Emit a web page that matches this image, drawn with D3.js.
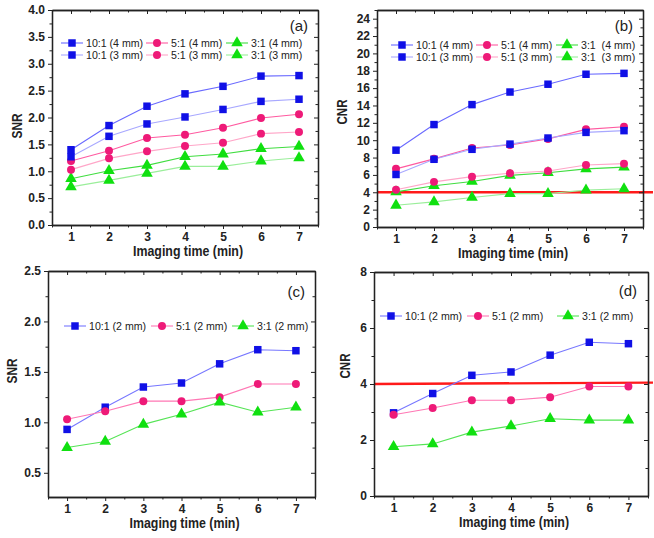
<!DOCTYPE html>
<html>
<head>
<meta charset="utf-8">
<script src="https://cdn.jsdelivr.net/npm/d3@7"></script>
<style>
  body { margin: 0; background: #fff; }
  svg { display: block; font-family: "Liberation Sans", Arial, sans-serif; }
  .tick text { font-weight: bold; font-size: 12px; fill: #222; }
  .domain, .tick line { stroke: #222; }
</style>
</head>
<body>
<div id="chart"></div>
<script>
const timeMin = [1, 2, 3, 4, 5, 6, 7];

// (a) SNR, 4 mm and 3 mm
const snrA_10_4 = [1.40, 1.85, 2.21, 2.44, 2.58, 2.77, 2.78];
const snrA_10_3 = [1.27, 1.65, 1.88, 2.01, 2.15, 2.30, 2.34];
const snrA_5_4 = [1.19, 1.38, 1.62, 1.68, 1.81, 1.99, 2.06];
const snrA_5_3 = [1.03, 1.24, 1.37, 1.47, 1.53, 1.70, 1.73];
const snrA_3_4 = [0.86, 1.01, 1.11, 1.27, 1.32, 1.42, 1.46];
const snrA_3_3 = [0.71, 0.83, 0.96, 1.09, 1.09, 1.19, 1.25];

// (b) CNR, 4 mm and 3 mm
const cnrB_10_4 = [8.85, 11.8, 14.1, 15.55, 16.45, 17.6, 17.7];
const cnrB_10_3 = [6.05, 7.8, 8.95, 9.55, 10.25, 10.9, 11.1];
const cnrB_5_4 = [6.7, 7.85, 9.1, 9.45, 10.15, 11.25, 11.55];
const cnrB_5_3 = [4.3, 5.2, 5.8, 6.2, 6.45, 7.15, 7.3];
const cnrB_3_4 = [4.05, 4.75, 5.25, 5.95, 6.25, 6.7, 6.9];
const cnrB_3_3 = [2.5, 2.9, 3.4, 3.85, 3.85, 4.25, 4.4];

// (c) SNR, 2 mm
const snrC_10 = [0.93, 1.15, 1.35, 1.39, 1.58, 1.72, 1.71];
const snrC_5 = [1.03, 1.11, 1.21, 1.21, 1.25, 1.38, 1.38];
const snrC_3 = [0.75, 0.81, 0.98, 1.08, 1.20, 1.10, 1.15];

// (d) CNR, 2 mm
const cnrD_10 = [2.97, 3.66, 4.31, 4.43, 5.03, 5.49, 5.44];
const cnrD_5 = [2.90, 3.14, 3.42, 3.42, 3.53, 3.91, 3.91];
const cnrD_3 = [1.76, 1.86, 2.28, 2.50, 2.76, 2.71, 2.71];

// red CNR = 4 threshold lines (start, end)
const thresholdB = [4.0, 4.0];
const thresholdD = [4.0, 4.05];

const legendA = ["10:1 (4 mm)", "5:1 (4 mm)", "3:1 (4 mm)", "10:1 (3 mm)", "5:1 (3 mm)", "3:1 (3 mm)"];
const legendB = ["10:1 (4 mm)", "5:1 (4 mm)", "3:1  (4 mm)", "10:1 (3 mm)", "5:1 (3 mm)", "3:1  (3 mm)"];
const legend2mm = ["10:1 (2 mm)", "5:1 (2 mm)", "3:1 (2 mm)"];

const yTicksA = [0, 0.5, 1, 1.5, 2, 2.5, 3, 3.5, 4];
const yTicksB = [0, 2, 4, 6, 8, 10, 12, 14, 16, 18, 20, 22, 24];
const yTicksC = [0.5, 1, 1.5, 2, 2.5];
const yTicksD = [0, 2, 4, 6, 8];

const W = 654, H = 538;
const svg = d3.select("#chart").append("svg").attr("width", W).attr("height", H);

const markerColor = { sq: "#1010e6", ci: "#ee1a78", tr: "#10e010" };
const symbolType = { sq: d3.symbolSquare, ci: d3.symbolCircle, tr: d3.symbolTriangle };
const symbolSize = { sq: 56, ci: 50, tr: 58 };

const drawPanel = (p) => {
    const x = d3.scaleLinear().domain([0.5, 7.5]).range([p.left, p.right]);
    const y = d3.scaleLinear().domain(p.yDomain).range([p.bottom, p.top]);
    const g = svg.append("g");

    const xMinor = d3.range(0.5, 7.51, 0.5).filter(v => !timeMin.includes(v));
    const yMinorAll = d3.range(Math.ceil(p.yDomain[0] / p.minorStep) * p.minorStep, p.yDomain[1] + 1e-6, p.minorStep)
        .map(v => +v.toFixed(3))
        .filter(v => !p.yTicks.some(t => Math.abs(t - v) < 1e-6));

    // threshold first so the axes sit on top
    if (p.threshold) {
        g.append("line")
            .attr("x1", p.left).attr("x2", W - 1)
            .attr("y1", y(p.threshold[0])).attr("y2", y(p.threshold[1]))
            .attr("stroke", "#ff1a1a").attr("stroke-width", 2.4);
    }

    // bottom axis
    g.append("g").attr("transform", `translate(0,${p.bottom})`)
        .call(d3.axisBottom(x).tickValues(timeMin).tickFormat(d3.format("d")).tickSizeInner(4).tickSizeOuter(0).tickPadding(3));
    g.append("g").attr("transform", `translate(0,${p.bottom})`)
        .call(d3.axisBottom(x).tickValues(xMinor).tickFormat("").tickSizeInner(2.5).tickSizeOuter(0));
    // top axis (inward)
    g.append("g").attr("transform", `translate(0,${p.top})`)
        .call(d3.axisBottom(x).tickValues(timeMin).tickFormat("").tickSizeInner(4).tickSizeOuter(0));
    g.append("g").attr("transform", `translate(0,${p.top})`)
        .call(d3.axisBottom(x).tickValues(xMinor).tickFormat("").tickSizeInner(2.5).tickSizeOuter(0));
    // left axis
    g.append("g").attr("transform", `translate(${p.left},0)`)
        .call(d3.axisLeft(y).tickValues(p.yTicks).tickFormat(d3.format(p.fmt)).tickSizeInner(4).tickSizeOuter(0).tickPadding(3));
    g.append("g").attr("transform", `translate(${p.left},0)`)
        .call(d3.axisLeft(y).tickValues(yMinorAll).tickFormat("").tickSizeInner(2.5).tickSizeOuter(0));
    // right axis (inward)
    g.append("g").attr("transform", `translate(${p.right},0)`)
        .call(d3.axisLeft(y).tickValues(p.yTicks).tickFormat("").tickSizeInner(4).tickSizeOuter(0));
    g.append("g").attr("transform", `translate(${p.right},0)`)
        .call(d3.axisLeft(y).tickValues(yMinorAll).tickFormat("").tickSizeInner(2.5).tickSizeOuter(0));
    g.selectAll(".domain").attr("stroke-width", 1.3);

    const line = d3.line().x((d, i) => x(timeMin[i])).y(d => y(d));
    p.series.forEach(s => {
        g.append("path").datum(s.values)
            .attr("d", line).attr("fill", "none")
            .attr("stroke", s.line).attr("stroke-width", 1.1);
        g.selectAll(null).data(s.values).enter().append("path")
            .attr("transform", (d, i) => `translate(${x(timeMin[i])},${y(d)})`)
            .attr("d", d3.symbol().type(symbolType[s.mk]).size(symbolSize[s.mk]))
            .attr("fill", markerColor[s.mk]);
    });

    // legend
    p.series.forEach((s, i) => {
        const L = p.legend[i];
        g.append("line").attr("x1", L.x - 11).attr("x2", L.x + 11)
            .attr("y1", L.y).attr("y2", L.y)
            .attr("stroke", s.line).attr("stroke-width", 1.1);
        g.append("path").attr("transform", `translate(${L.x},${L.y})`)
            .attr("d", d3.symbol().type(symbolType[s.mk]).size(symbolSize[s.mk]))
            .attr("fill", markerColor[s.mk]);
        g.append("text").attr("x", L.x + 14).attr("y", L.y + 4)
            .attr("font-size", "10.6px").attr("fill", "#222")
            .style("white-space", "pre")
            .text(s.name);
    });

    g.append("text").attr("x", p.tag[0]).attr("y", p.tag[1])
        .attr("text-anchor", "end").attr("font-size", "15px").attr("fill", "#222")
        .text(p.tagText);

    g.append("text")
        .attr("x", (p.left + p.right) / 2 + 3).attr("y", p.bottom + 31)
        .attr("text-anchor", "middle").attr("font-weight", "bold")
        .attr("font-size", "14px").attr("fill", "#222")
        .attr("textLength", 110).attr("lengthAdjust", "spacingAndGlyphs")
        .text("Imaging time (min)");

    g.append("text")
        .attr("transform", `translate(${p.yTitle[0]},${p.yTitle[1]}) rotate(-90)`)
        .attr("text-anchor", "middle").attr("font-weight", "bold")
        .attr("font-size", "15px").attr("fill", "#222")
        .attr("textLength", 25).attr("lengthAdjust", "spacingAndGlyphs")
        .text(p.yLabel);
};

const blue4 = "#6a6aff", blue3 = "#a8a8ff";
const pink4 = "#ff5aa0", pink3 = "#ffa6c8";
const green4 = "#40dd40", green3 = "#9aee9a";

const legend6 = (cols, rows) => [
    { x: cols[0], y: rows[0] }, { x: cols[1], y: rows[0] }, { x: cols[2], y: rows[0] },
    { x: cols[0], y: rows[1] }, { x: cols[1], y: rows[1] }, { x: cols[2], y: rows[1] }
];

drawPanel({
    left: 52, right: 318, top: 10, bottom: 225,
    yDomain: [0, 4], yTicks: yTicksA, minorStep: 0.25, fmt: ".1f",
    yLabel: "SNR", yTitle: [22, 126], tag: [308, 31], tagText: "(a)",
    series: [
        { name: legendA[0], values: snrA_10_4, mk: "sq", line: blue4 },
        { name: legendA[1], values: snrA_5_4, mk: "ci", line: pink4 },
        { name: legendA[2], values: snrA_3_4, mk: "tr", line: green4 },
        { name: legendA[3], values: snrA_10_3, mk: "sq", line: blue3 },
        { name: legendA[4], values: snrA_5_3, mk: "ci", line: pink3 },
        { name: legendA[5], values: snrA_3_3, mk: "tr", line: green3 }
    ],
    legend: legend6([72, 157, 237], [43, 55])
});

drawPanel({
    left: 377, right: 643, top: 10, bottom: 227,
    yDomain: [0, 25], yTicks: yTicksB, minorStep: 1, fmt: "d",
    yLabel: "CNR", yTitle: [347, 112], tag: [633, 31], tagText: "(b)",
    threshold: thresholdB,
    series: [
        { name: legendB[0], values: cnrB_10_4, mk: "sq", line: blue4 },
        { name: legendB[1], values: cnrB_5_4, mk: "ci", line: pink4 },
        { name: legendB[2], values: cnrB_3_4, mk: "tr", line: green4 },
        { name: legendB[3], values: cnrB_10_3, mk: "sq", line: blue3 },
        { name: legendB[4], values: cnrB_5_3, mk: "ci", line: pink3 },
        { name: legendB[5], values: cnrB_3_3, mk: "tr", line: green3 }
    ],
    legend: legend6([402, 487, 567], [45, 57])
});

drawPanel({
    left: 48, right: 315, top: 271, bottom: 497,
    yDomain: [0.26, 2.5], yTicks: yTicksC, minorStep: 0.25, fmt: ".1f",
    yLabel: "SNR", yTitle: [17, 371], tag: [305, 297], tagText: "(c)",
    series: [
        { name: legend2mm[0], values: snrC_10, mk: "sq", line: "#7777ff" },
        { name: legend2mm[1], values: snrC_5, mk: "ci", line: "#ff77b4" },
        { name: legend2mm[2], values: snrC_3, mk: "tr", line: "#55e455" }
    ],
    legend: [{ x: 75, y: 326 }, { x: 162, y: 326 }, { x: 243, y: 326 }]
});

drawPanel({
    left: 374, right: 648, top: 272, bottom: 496,
    yDomain: [0, 8], yTicks: yTicksD, minorStep: 1, fmt: "d",
    yLabel: "CNR", yTitle: [350, 366], tag: [637, 296], tagText: "(d)",
    threshold: thresholdD,
    series: [
        { name: legend2mm[0], values: cnrD_10, mk: "sq", line: "#7777ff" },
        { name: legend2mm[1], values: cnrD_5, mk: "ci", line: "#ff77b4" },
        { name: legend2mm[2], values: cnrD_3, mk: "tr", line: "#55e455" }
    ],
    legend: [{ x: 391, y: 316 }, { x: 478, y: 316 }, { x: 568, y: 316 }]
});
</script>
</body>
</html>
